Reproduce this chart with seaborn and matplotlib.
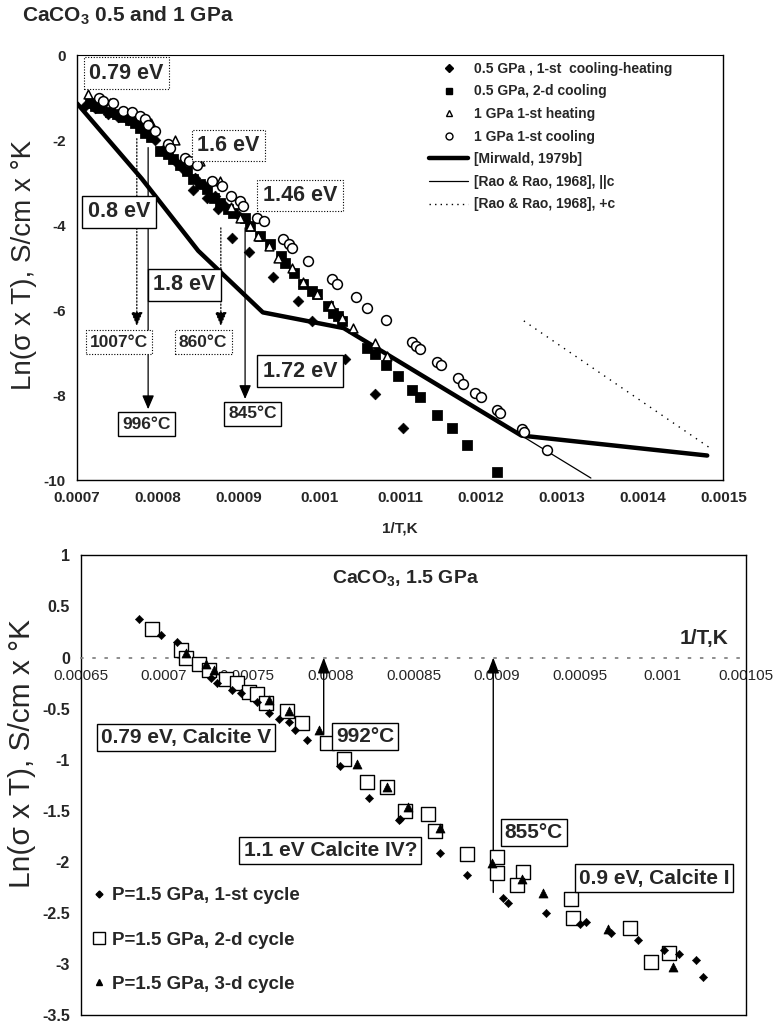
import numpy as np
import pandas as pd
import matplotlib.pyplot as plt
import seaborn as sns
from matplotlib.lines import Line2D

sns.set_theme(style="white")
plt.rcParams['font.family'] = ['Liberation Sans', 'DejaVu Sans']
plt.rcParams['mathtext.fontset'] = 'custom'
plt.rcParams['mathtext.rm'] = 'Liberation Sans'
plt.rcParams['mathtext.bf'] = 'Liberation Sans:bold'

# ---- top panel data (0.5 and 1 GPa) ----
dia05_x = [0.000710, 0.000722, 0.000738, 0.000751, 0.000763, 0.000776, 0.000788, 0.000797,
           0.000809, 0.000821, 0.000831, 0.000846, 0.000859, 0.000844, 0.000861, 0.000871,
           0.000874, 0.000883, 0.000900, 0.000892, 0.000913, 0.000942, 0.000973, 0.000991,
           0.001032, 0.001069, 0.001104]
dia05_y = [-1.18, -1.25, -1.37, -1.46, -1.53, -1.65, -1.82, -2.00, -2.19, -2.48, -2.67, -2.88,
           -3.07, -3.18, -3.35, -3.30, -3.61, -3.54, -3.77, -4.29, -4.62, -5.21, -5.78, -6.25,
           -7.15, -7.97, -8.77]

sq05_x = [0.000716, 0.000722, 0.000729, 0.000741, 0.000750, 0.000757, 0.000766, 0.000772,
          0.000778, 0.000784, 0.000791, 0.000803, 0.000812, 0.000819, 0.000828, 0.000836,
          0.000844, 0.000852, 0.000861, 0.000869, 0.000877, 0.000887, 0.000893, 0.000908,
          0.000914, 0.000927, 0.000939, 0.000952, 0.000958, 0.000968, 0.000980, 0.000991,
          0.000997, 0.001011, 0.001017, 0.001023, 0.001028, 0.001059, 0.001069, 0.001083,
          0.001097, 0.001114, 0.001124, 0.001146, 0.001164, 0.001183, 0.001220]
sq05_y = [-1.11, -1.18, -1.25, -1.34, -1.37, -1.46, -1.53, -1.60, -1.72, -1.82, -1.93, -2.24,
          -2.31, -2.43, -2.59, -2.71, -2.90, -3.02, -3.14, -3.35, -3.47, -3.61, -3.70, -3.82,
          -4.01, -4.25, -4.43, -4.72, -4.88, -5.12, -5.38, -5.54, -5.61, -5.90, -6.06, -6.13,
          -6.25, -6.89, -7.03, -7.29, -7.55, -7.88, -8.04, -8.47, -8.77, -9.17, -9.81]

tri1_x = [0.000714, 0.000741, 0.000791, 0.000821, 0.000852, 0.000877, 0.000890, 0.000902,
          0.000914, 0.000924, 0.000937, 0.000949, 0.000966, 0.000980, 0.000997, 0.001014,
          0.001028, 0.001042, 0.001069, 0.001084]
tri1_y = [-0.90, -1.13, -1.58, -2.00, -2.48, -2.95, -3.58, -3.82, -4.01, -4.25, -4.48, -4.76,
          -5.00, -5.33, -5.61, -5.87, -6.18, -6.42, -6.77, -7.08]

circ1_x = [0.000727, 0.000732, 0.000745, 0.000757, 0.000768, 0.000778, 0.000784, 0.000788,
           0.000797, 0.000812, 0.000815, 0.000834, 0.000838, 0.000849, 0.000867, 0.000880,
           0.000890, 0.000902, 0.000905, 0.000923, 0.000931, 0.000955, 0.000962, 0.000966,
           0.000986, 0.001016, 0.001022, 0.001045, 0.001059, 0.001082, 0.001115, 0.001120,
           0.001125, 0.001146, 0.001150, 0.001171, 0.001178, 0.001193, 0.001200, 0.001220,
           0.001223, 0.001251, 0.001253, 0.001282]
circ1_y = [-1.01, -1.08, -1.13, -1.30, -1.34, -1.42, -1.49, -1.65, -1.77, -2.08, -2.17, -2.41,
           -2.48, -2.59, -2.95, -3.07, -3.30, -3.42, -3.54, -3.82, -3.89, -4.32, -4.43, -4.53,
           -4.83, -5.26, -5.38, -5.68, -5.94, -6.23, -6.75, -6.84, -6.91, -7.22, -7.29, -7.59,
           -7.74, -7.95, -8.04, -8.35, -8.42, -8.80, -8.87, -9.29]

mirwald_x = [0.00070, 0.00078, 0.00085, 0.00093, 0.00103, 0.00125, 0.00148]
mirwald_y = [-1.13, -2.90, -4.60, -6.05, -6.42, -8.95, -9.42]
rao_par_x = [0.00125, 0.001336]
rao_par_y = [-8.95, -9.95]
rao_perp_x = [0.001253, 0.001484]
rao_perp_y = [-6.25, -9.25]

top_xticks = [0.0007, 0.0008, 0.0009, 0.001, 0.0011, 0.0012, 0.0013, 0.0014, 0.0015]
top_xlabels = ["0.0007", "0.0008", "0.0009", "0.001", "0.0011", "0.0012", "0.0013", "0.0014", "0.0015"]
top_yticks = [0, -2, -4, -6, -8, -10]

# ---- bottom panel data (1.5 GPa) ----
c1_x = [0.000685, 0.000698, 0.000708, 0.000728, 0.000732, 0.000741, 0.000746, 0.000756,
        0.000763, 0.000769, 0.000775, 0.000779, 0.000786, 0.000806, 0.000823, 0.000841,
        0.000842, 0.000866, 0.000882, 0.000904, 0.000907, 0.000930, 0.000950, 0.000954,
        0.000969, 0.000985, 0.001001, 0.001010, 0.001020, 0.001024]
c1_y = [0.38, 0.22, 0.15, -0.20, -0.25, -0.32, -0.35, -0.44, -0.54, -0.60, -0.63, -0.71,
        -0.81, -1.06, -1.38, -1.59, -1.58, -1.91, -2.13, -2.35, -2.40, -2.50, -2.61, -2.59,
        -2.70, -2.77, -2.86, -2.90, -2.96, -3.13]

c2_x = [0.000693, 0.000710, 0.000713, 0.000721, 0.000727, 0.000737, 0.000744, 0.000751,
        0.000756, 0.000761, 0.000774, 0.000783, 0.000798, 0.000808, 0.000822, 0.000834,
        0.000845, 0.000859, 0.000863, 0.000882, 0.000900, 0.000900, 0.000916, 0.000912,
        0.000945, 0.000946, 0.000980, 0.001004, 0.000993]
c2_y = [0.28, 0.07, 0.00, -0.06, -0.12, -0.21, -0.25, -0.34, -0.36, -0.45, -0.52, -0.64,
        -0.84, -0.99, -1.22, -1.27, -1.50, -1.53, -1.70, -1.92, -1.95, -2.11, -2.10, -2.23,
        -2.36, -2.55, -2.65, -2.89, -2.98]

c3_x = [0.000713, 0.000725, 0.000730, 0.000763, 0.000775, 0.000793, 0.000816, 0.000834,
        0.000847, 0.000866, 0.000897, 0.000915, 0.000928, 0.000967, 0.001006]
c3_y = [0.04, -0.06, -0.12, -0.42, -0.52, -0.71, -1.04, -1.27, -1.46, -1.67, -2.01, -2.17,
        -2.31, -2.66, -3.03]

bot_xticks = [0.00065, 0.0007, 0.00075, 0.0008, 0.00085, 0.0009, 0.00095, 0.001, 0.00105]
bot_xlabels = ["0.00065", "0.0007", "0.00075", "0.0008", "0.00085", "0.0009", "0.00095", "0.001", "0.00105"]
bot_yticks = [1, 0.5, 0, -0.5, -1, -1.5, -2, -2.5, -3, -3.5]
bot_ylabels = ["1", "0.5", "0", "-0.5", "-1", "-1.5", "-2", "-2.5", "-3", "-3.5"]

YLABEL = "Ln(σ x T), S/cm x °K"

fig = plt.figure(figsize=(7.75, 10.26), dpi=100)
ax1 = fig.add_axes([0.0994, 0.532, 0.834, 0.414])
ax2 = fig.add_axes([0.1045, 0.0107, 0.858, 0.448])

# ---------------- top panel ----------------
sns.lineplot(x=mirwald_x, y=mirwald_y, sort=False, estimator=None, color="black", lw=3.2, ax=ax1)
sns.lineplot(x=rao_par_x, y=rao_par_y, sort=False, estimator=None, color="black", lw=0.9, ax=ax1)
sns.lineplot(x=rao_perp_x, y=rao_perp_y, sort=False, estimator=None, color="black", lw=1.0,
             linestyle=(0, (1, 4)), ax=ax1)

sns.scatterplot(x=sq05_x, y=sq05_y, marker="s", s=46, color="black", edgecolor="black", ax=ax1, zorder=3)
sns.scatterplot(x=dia05_x, y=dia05_y, marker="D", s=30, color="black", edgecolor="black", ax=ax1, zorder=3)
sns.scatterplot(x=tri1_x, y=tri1_y, marker="^", s=40, facecolor="white", edgecolor="black",
                linewidth=1.1, ax=ax1, zorder=4)
sns.scatterplot(x=circ1_x, y=circ1_y, marker="o", s=50, facecolor="white", edgecolor="black",
                linewidth=1.1, ax=ax1, zorder=4)

ax1.set_xlim(0.0007, 0.0015)
ax1.set_ylim(-10, 0)
ax1.set_xticks(top_xticks)
ax1.set_xticklabels(top_xlabels)
ax1.set_yticks(top_yticks)
ax1.set_yticklabels([str(v) for v in top_yticks])
for lab in ax1.get_xticklabels() + ax1.get_yticklabels():
    lab.set_fontweight("bold")
    lab.set_fontsize(11)
ax1.tick_params(axis="both", length=0, pad=8)
ax1.set_xlabel("1/T,K", fontsize=11, fontweight="bold", labelpad=12)
for sp in ax1.spines.values():
    sp.set_color("black")
    sp.set_linewidth(1.0)
ax1.spines["top"].set_linestyle((0, (3, 1)))
ax1.spines["top"].set_linewidth(0.8)

top_handles = [
    Line2D([], [], marker="D", ls="none", color="black", ms=4),
    Line2D([], [], marker="s", ls="none", color="black", ms=5),
    Line2D([], [], marker="^", ls="none", mfc="white", mec="black", ms=5),
    Line2D([], [], marker="o", ls="none", mfc="white", mec="black", ms=5),
    Line2D([], [], color="black", lw=3.2),
    Line2D([], [], color="black", lw=0.9),
    Line2D([], [], color="black", lw=1.0, ls=(0, (1, 3))),
]
top_labels = ["0.5 GPa , 1-st  cooling-heating", "0.5 GPa, 2-d cooling", "1 GPa 1-st heating",
              "1 GPa 1-st cooling", "[Mirwald, 1979b]", "[Rao & Rao, 1968], ||c",
              "[Rao & Rao, 1968], +c"]
ax1.legend(top_handles, top_labels, loc="upper left", bbox_to_anchor=(0.545, 0.985),
           frameon=False, prop={"weight": "bold", "size": 10}, handlelength=2.8,
           handletextpad=0.4, labelspacing=0.62, borderpad=0, borderaxespad=0)

solid_box = dict(boxstyle="square,pad=0.25", fc="white", ec="black", lw=1.0)
dot_box = dict(boxstyle="square,pad=0.25", fc="white", ec="black", lw=0.8, ls=(0, (1, 1.5)))

# temperature arrows
for x0, y0, y1, ls in [(0.000774, -1.96, -6.37, ":"), (0.000788, -2.17, -8.33, "-"),
                       (0.000878, -4.06, -6.37, ":"), (0.000908, -4.06, -8.09, "-")]:
    ax1.annotate("", xy=(x0, y1), xytext=(x0, y0),
                 arrowprops=dict(arrowstyle="-|>,head_length=0.7,head_width=0.3", color="black",
                                 lw=0.9, ls=ls, shrinkA=0, shrinkB=0), zorder=2)

for txt, x, y, box, fs in [("0.79 eV", 0.0007607, -0.42, dot_box, 15.5),
                           ("1.6 eV", 0.000887, -2.12, dot_box, 15.5),
                           ("1.46 eV", 0.000976, -3.30, dot_box, 15.5),
                           ("0.8 eV", 0.000752, -3.68, solid_box, 15.5),
                           ("1.8 eV", 0.0008326, -5.40, solid_box, 15.5),
                           ("1.72 eV", 0.000976, -7.43, solid_box, 15.5),
                           ("1007°C", 0.000752, -6.75, dot_box, 12.5),
                           ("860°C", 0.0008561, -6.75, dot_box, 12.5),
                           ("996°C", 0.0007855, -8.68, solid_box, 12.5),
                           ("845°C", 0.0009169, -8.44, solid_box, 12.5)]:
    ax1.text(x, y, txt, ha="center", va="center", fontsize=fs, fontweight="bold", bbox=box, zorder=5)

# ---------------- bottom panel ----------------
sns.scatterplot(x=c2_x, y=c2_y, marker="s", s=100, facecolor="white", edgecolor="black",
                linewidth=1.0, ax=ax2, zorder=3)
sns.scatterplot(x=c1_x, y=c1_y, marker="D", s=18, color="black", edgecolor="black", ax=ax2, zorder=4)
sns.scatterplot(x=c3_x, y=c3_y, marker="^", s=42, color="black", edgecolor="black", ax=ax2, zorder=4)

ax2.set_xlim(0.00065, 0.00105)
ax2.set_ylim(-3.5, 1)
ax2.set_xticks(bot_xticks)
ax2.set_xticklabels(bot_xlabels)
ax2.set_yticks(bot_yticks)
ax2.set_yticklabels(bot_ylabels)
for lab in ax2.get_xticklabels() + ax2.get_yticklabels():
    lab.set_fontweight("bold")
    lab.set_fontsize(11.5)
ax2.tick_params(axis="both", length=0, pad=8)
ax2.spines["bottom"].set_position(("data", 0))
ax2.spines["bottom"].set_linestyle((0, (1, 6)))
ax2.spines["bottom"].set_color("gray")
for side in ["top", "left", "right"]:
    ax2.spines[side].set_color("black")
    ax2.spines[side].set_linewidth(1.0)
ax2.axhline(-3.5, color="black", lw=1.0, clip_on=False)

for x0, y0 in [(0.000796, -0.75), (0.000898, -2.30)]:
    ax2.annotate("", xy=(x0, 0), xytext=(x0, y0),
                 arrowprops=dict(arrowstyle="-|>,head_length=0.8,head_width=0.3", color="black",
                                 lw=1.0, shrinkA=0, shrinkB=0), zorder=2)

for txt, x, y in [("0.79 eV, Calcite V", 0.0007132, -0.78), ("992°C", 0.0008208, -0.77),
                  ("1.1 eV Calcite IV?", 0.0008, -1.89), ("855°C", 0.0009225, -1.71),
                  ("0.9 eV, Calcite I", 0.0009947, -2.16)]:
    ax2.text(x, y, txt, ha="center", va="center", fontsize=15, fontweight="bold",
             bbox=dict(boxstyle="square,pad=0.2", fc="white", ec="black", lw=1.0), zorder=5)

ax2.text(0.000845, 0.77, "CaCO$_\\mathbf{3}$, 1.5 GPa", ha="center", va="center",
         fontsize=14, fontweight="bold")
ax2.text(0.001025, 0.19, "1/T,K", ha="center", va="center", fontsize=15, fontweight="bold")

bot_handles = [
    Line2D([], [], marker="D", ls="none", color="black", ms=3.5),
    Line2D([], [], marker="s", ls="none", mfc="white", mec="black", ms=8),
    Line2D([], [], marker="^", ls="none", color="black", ms=5),
]
bot_labels = ["P=1.5 GPa, 1-st cycle", "P=1.5 GPa, 2-d cycle", "P=1.5 GPa, 3-d cycle"]
ax2.legend(bot_handles, bot_labels, loc="center left", bbox_to_anchor=(0.016, 0.163),
           frameon=False, prop={"weight": "bold", "size": 13.5}, handlelength=0.8,
           handletextpad=0.3, labelspacing=1.45, borderpad=0, borderaxespad=0)

# titles and y labels
fig.text(22 / 775, 0.985, "CaCO$_\\mathbf{3}$ 0.5 and 1 GPa", ha="left", va="center",
         fontsize=15, fontweight="bold")
fig.text(24 / 775, 1 - 265 / 1026, YLABEL, rotation=90, ha="center", va="center", fontsize=20)
fig.text(22 / 775, 1 - 753 / 1026, YLABEL, rotation=90, ha="center", va="center", fontsize=21.5)

plt.savefig("out.png", dpi=100)
